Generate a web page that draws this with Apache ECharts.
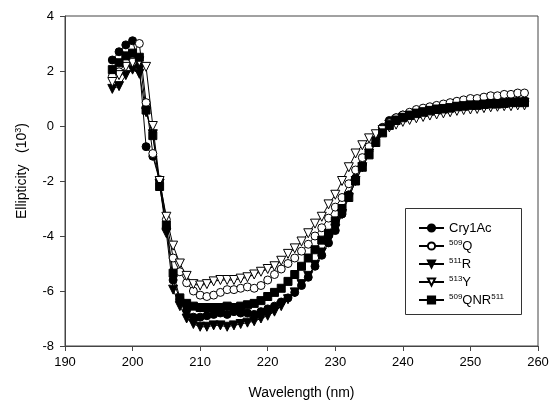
<!DOCTYPE html>
<html>
<head>
<meta charset="utf-8">
<script src="https://cdn.jsdelivr.net/npm/echarts@6/dist/echarts.min.js"></script>
<style>html,body{margin:0;padding:0;background:#fff}#c{width:556px;height:411px}</style>
</head>
<body>
<div id="c"></div>
<script>
const wavelengths = [197,198,199,200,201,202,203,204,205,206,207,208,209,210,211,212,213,214,215,216,217,218,219,220,221,222,223,224,225,226,227,228,229,230,231,232,233,234,235,236,237,238,239,240,241,242,243,244,245,246,247,248,249,250,251,252,253,254,255,256,257,258];
const cry1Ac = [2.4,2.7,2.95,3.1,2.2,-0.75,-1.1,-2.0,-3.7,-5.6,-6.3,-6.7,-6.95,-6.95,-6.9,-6.85,-6.8,-6.85,-6.75,-6.8,-6.8,-6.85,-6.75,-6.65,-6.55,-6.4,-6.25,-6.05,-5.8,-5.5,-5.1,-4.7,-4.25,-3.8,-3.2,-2.5,-1.9,-1.4,-0.9,-0.4,-0.05,0.2,0.3,0.4,0.45,0.5,0.55,0.6,0.62,0.65,0.7,0.72,0.75,0.78,0.8,0.82,0.85,0.85,0.88,0.9,0.9,0.92];
const q509 = [1.8,1.97,2.3,2.6,3.0,0.85,-1.0,-1.95,-3.4,-4.8,-5.3,-5.7,-6.0,-6.15,-6.2,-6.15,-6.05,-5.95,-5.95,-5.9,-5.85,-5.9,-5.8,-5.6,-5.4,-5.2,-5.0,-4.8,-4.55,-4.3,-4.0,-3.7,-3.35,-2.95,-2.6,-2.1,-1.6,-1.15,-0.75,-0.4,-0.1,0.12,0.3,0.4,0.5,0.6,0.65,0.7,0.75,0.8,0.85,0.9,0.95,1.0,1.0,1.05,1.1,1.1,1.15,1.15,1.2,1.2];
const r511 = [1.35,1.45,1.85,2.05,1.9,0.5,-0.3,-2.1,-3.9,-5.95,-6.55,-7.0,-7.2,-7.3,-7.3,-7.25,-7.25,-7.3,-7.25,-7.2,-7.15,-7.1,-7.0,-6.9,-6.75,-6.55,-6.3,-6.05,-5.75,-5.45,-5.05,-4.6,-4.15,-3.75,-3.2,-2.6,-2.0,-1.5,-1.0,-0.55,-0.2,0.05,0.2,0.3,0.38,0.45,0.5,0.55,0.6,0.62,0.65,0.7,0.72,0.75,0.75,0.78,0.8,0.8,0.82,0.85,0.85,0.85];
const y513 = [1.6,1.85,2.15,2.3,2.35,2.15,0.0,-2.0,-3.3,-4.35,-5.0,-5.45,-5.75,-5.8,-5.75,-5.65,-5.6,-5.6,-5.6,-5.55,-5.5,-5.4,-5.3,-5.2,-5.1,-4.9,-4.65,-4.45,-4.2,-3.9,-3.55,-3.3,-2.85,-2.5,-2.0,-1.5,-1.0,-0.7,-0.45,-0.3,-0.15,-0.05,0.05,0.15,0.22,0.28,0.33,0.38,0.42,0.46,0.5,0.55,0.58,0.6,0.62,0.65,0.68,0.7,0.72,0.72,0.75,0.75];
const qnr = [2.05,2.3,2.55,2.65,2.5,0.58,-0.35,-2.2,-3.6,-5.35,-6.25,-6.45,-6.55,-6.6,-6.6,-6.6,-6.6,-6.55,-6.6,-6.55,-6.5,-6.45,-6.35,-6.2,-6.05,-5.9,-5.65,-5.4,-5.1,-4.8,-4.5,-4.15,-3.9,-3.45,-3.0,-2.6,-2.0,-1.5,-1.05,-0.6,-0.25,0.02,0.2,0.3,0.38,0.45,0.5,0.55,0.6,0.62,0.65,0.7,0.72,0.75,0.75,0.78,0.8,0.8,0.82,0.85,0.85,0.85];
const seriesNames = ['Cry1Ac','509Q','511R','513Y','509QNR511'];
const legendLabels = ['Cry1Ac','{s|509}Q','{s|511}R','{s|513}Y','{s|509}QNR{s|511}'];
const xTicks = {min:190, max:260, interval:10};
const yTicks = {min:-8, max:4, interval:2};

const FONT = 'Arial, "Liberation Sans", sans-serif';
function pairs(vals){ return wavelengths.map((w,i)=>[w,vals[i]]); }
function mk(name, vals, symbol, filled, size, rot){
  return {
    name, type:'line', data:pairs(vals), symbol, symbolSize:size, symbolRotate:rot||0,
    showSymbol:true, showAllSymbol:true,
    lineStyle:{color:'#000', width:1},
    itemStyle:{color: filled?'#000':'#fff', borderColor:'#000', borderWidth:1},
    emphasis:{disabled:true}
  };
}
const chart = echarts.init(document.getElementById('c'), null, {renderer:'canvas'});
chart.setOption({
  animation:false,
  backgroundColor:'#fff',
  textStyle:{fontFamily:FONT},
  grid:{left:65, right:18, top:16, bottom:65, show:true, borderColor:'#444', borderWidth:1},
  xAxis:{
    type:'value', min:xTicks.min, max:xTicks.max, interval:xTicks.interval,
    name:'Wavelength (nm)', nameLocation:'middle', nameGap:40,
    nameTextStyle:{fontSize:14, color:'#000', fontFamily:FONT},
    axisLine:{onZero:false, lineStyle:{color:'#444'}}, axisTick:{inside:false, length:5, lineStyle:{color:'#444'}},
    axisLabel:{fontSize:13, color:'#000', margin:10, fontFamily:FONT},
    splitLine:{show:false}
  },
  yAxis:{
    type:'value', min:yTicks.min, max:yTicks.max, interval:yTicks.interval,
    name:'Ellipticity   (10{s|3})', nameLocation:'middle', nameGap:34,
    nameTextStyle:{fontSize:14, color:'#000', fontFamily:FONT, padding:[0,0,0,20], rich:{s:{fontSize:9, verticalAlign:'top', padding:[0,0,8,0], fontFamily:FONT}}},
    axisLine:{show:true, onZero:false, lineStyle:{color:'#444'}}, axisTick:{show:true, inside:false, length:5, lineStyle:{color:'#444'}},
    axisLabel:{fontSize:13, color:'#000', margin:11, fontFamily:FONT},
    splitLine:{show:false}
  },
  legend:{
    orient:'vertical', left:413, top:216, itemWidth:25, itemHeight:9, itemGap:4,
    data:seriesNames,
    formatter:(n)=>legendLabels[seriesNames.indexOf(n)],
    textStyle:{fontSize:13, color:'#000', fontFamily:FONT, lineHeight:14,
      rich:{s:{fontSize:8, verticalAlign:'top', padding:[0,0,7,0], fontFamily:FONT}}}
  },
  graphic:[{type:'rect', shape:{x:405.5, y:208.5, width:116, height:106}, style:{fill:'none', stroke:'#333', lineWidth:1}, silent:true}],
  series:[
    mk('Cry1Ac', cry1Ac, 'circle', true, 8),
    mk('509Q', q509, 'circle', false, 8),
    mk('511R', r511, 'triangle', true, 9, 180),
    mk('513Y', y513, 'triangle', false, 9, 180),
    mk('509QNR511', qnr, 'rect', true, 8)
  ]
});
</script>
</body>
</html>
